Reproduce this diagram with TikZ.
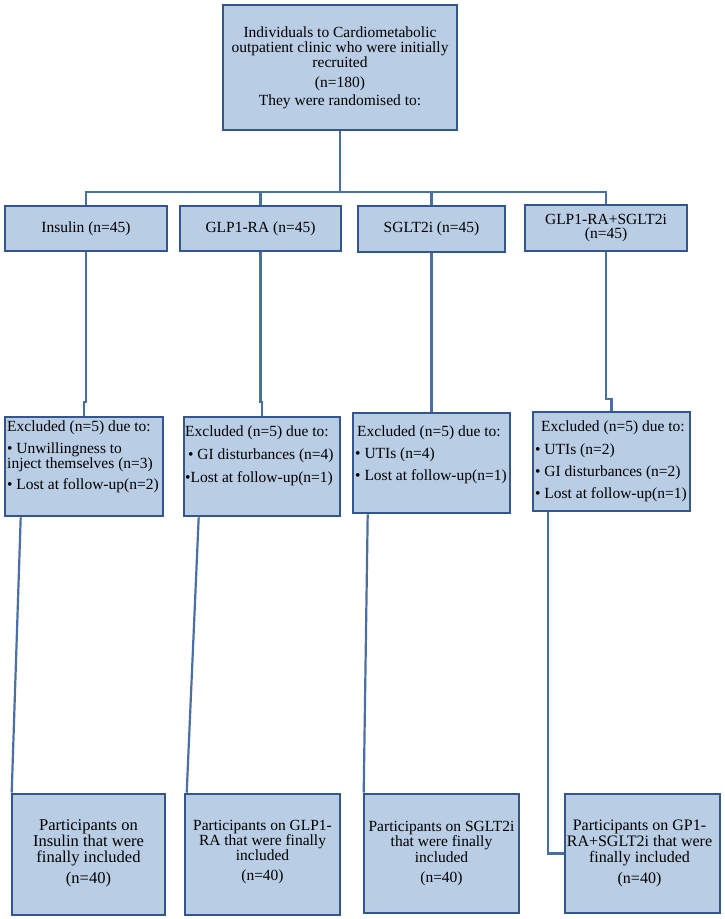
\documentclass[tikz,border=0pt]{standalone}
\usepackage{fontspec}
\setmainfont{Liberation Serif}
\definecolor{boxfill}{RGB}{185,205,229}
\definecolor{boxline}{RGB}{52,86,138}
\definecolor{connline}{RGB}{74,111,165}
\newcommand\mkbox[5]{\node[box, minimum width={(#4-#2)*1pt}, minimum height={(#5-#3)*1pt}] (#1) at ({(#2+#4)/2},{-(#3+#5)/2}) {};}
\begin{document}
\begin{tikzpicture}[x=1pt,y=1pt,
  box/.style={draw=boxline, fill=boxfill, line width=2.6pt, inner sep=0pt, rectangle},
  conn/.style={draw=connline, line width=2.2pt},
  ctxt/.style={inner sep=0pt, align=center, text=black},
  ltxt/.style={inner sep=0pt, align=left, anchor=north west, text=black, font=\fontsize{15.5}{14}\selectfont}]
\useasboundingbox (0,0) rectangle (725,-919);
% boxes
\mkbox{top}{223}{5}{457}{130}
\mkbox{ins}{5}{206}{167}{251}
\mkbox{glp}{180}{206}{341}{251}
\mkbox{sgl}{358}{206}{505}{252}
\mkbox{comb}{525}{205}{687}{251}
\mkbox{insx}{5}{417}{163}{516}
\mkbox{glpx}{184}{417}{340}{516}
\mkbox{sglx}{353}{413}{510}{513}
\mkbox{combx}{533}{412}{690}{511}
\mkbox{insf}{12}{794}{165}{915}
\mkbox{glpf}{185}{794}{340}{915}
\mkbox{sglf}{364}{794}{519}{913}
\mkbox{combf}{565}{794}{720}{913}
% texts
\node[ctxt, font=\fontsize{15.5}{15}\selectfont] (topt) at (top.center) {Individuals to Cardiometabolic\\outpatient clinic who were initially\\recruited\\[5pt](n=180)\\[3pt]They were randomised to:};
\node[ctxt, font=\fontsize{15.5}{15}\selectfont] (inst) at (ins.center) {Insulin (n=45)};
\node[ctxt, font=\fontsize{15.5}{15}\selectfont] (glpt) at (glp.center) {GLP1-RA (n=45)};
\node[ctxt, font=\fontsize{15.5}{15}\selectfont] (sglt) at (sgl.center) {SGLT2i (n=45)};
\node[ctxt, font=\fontsize{15.5}{14}\selectfont] (combt) at (comb.center) {GLP1-RA+SGLT2i\\(n=45)};
\node[ltxt] (insxt) at (7,-421) {Excluded (n=5) due to:\\[6.5pt]• Unwillingness to\\inject themselves (n=3)\\[6pt]• Lost at follow-up(n=2)};
\node[ltxt] (glpxt) at (185,-426) {Excluded (n=5) due to:\\[7.5pt]\hspace{3pt}• GI disturbances (n=4)\\[7.5pt]•Lost at follow-up(n=1)};
\node[ltxt] (sglxt) at (355,-426) {\hspace{2pt}Excluded (n=5) due to:\\[6.5pt]• UTIs (n=4)\\[6.5pt]• Lost at follow-up(n=1)};
\node[ltxt] (combxt) at (535,-421) {\hspace{6pt}Excluded (n=5) due to:\\[7pt]• UTIs (n=2)\\[7pt]• GI disturbances (n=2)\\[7pt]• Lost at follow-up(n=1)};
\node[ctxt, font=\fontsize{16.5}{16}\selectfont] (insft) at ([yshift=1pt]insf.center) {Participants on\\Insulin that were\\finally included\\[5pt](n=40)};
\node[ctxt, font=\fontsize{15.5}{15}\selectfont] (glpft) at ([yshift=2pt]glpf.center) {Participants on GLP1-\\RA that were finally\\included\\[5pt](n=40)};
\node[ctxt, font=\fontsize{15.5}{15.5}\selectfont] (sglft) at ([yshift=0pt]sglf.center) {Participants on SGLT2i\\that were finally\\included\\[5pt](n=40)};
\node[ctxt, font=\fontsize{16}{16}\selectfont] (combft) at ([xshift=-3pt]combf.center) {Participants on GP1-\\RA+SGLT2i that were\\finally included\\[5pt](n=40)};
% connectors top -> arms
\coordinate (hb) at (340,-192);
\draw[conn] (top.south) -- (hb);
\draw[conn] (ins.north) |- (comb.north |- hb) -- (comb.north);
\draw[conn] (glp.north) -- (glp.north |- hb);
\draw[conn] (sgl.north) -- (sgl.north |- hb);
% arms -> excluded
\coordinate (j1) at (0,-402);
\coordinate (j2) at (0,-399);
\draw[conn] (ins.south) -- (ins.south |- j1) -| (insx.north);
\draw[conn] (glp.south) -- (glp.south |- j1) -| (glpx.north);
\draw[conn] (sgl.south) -- (sgl.south |- j2) -| (sglx.north);
\draw[conn] (comb.south) -- (comb.south |- j2) -| (combx.north);
% excluded -> final
\draw[conn] ([xshift=17pt]insx.south west) -- ([xshift=1pt]insf.north west);
\draw[conn] ([xshift=16pt]glpx.south west) -- ([xshift=3pt]glpf.north west);
\draw[conn] ([xshift=16pt]sglx.south west) -- ([xshift=1pt]sglf.north west);
\draw[conn] ([xshift=16pt]combx.south west) |- (combf.west);
\end{tikzpicture}
\end{document}
